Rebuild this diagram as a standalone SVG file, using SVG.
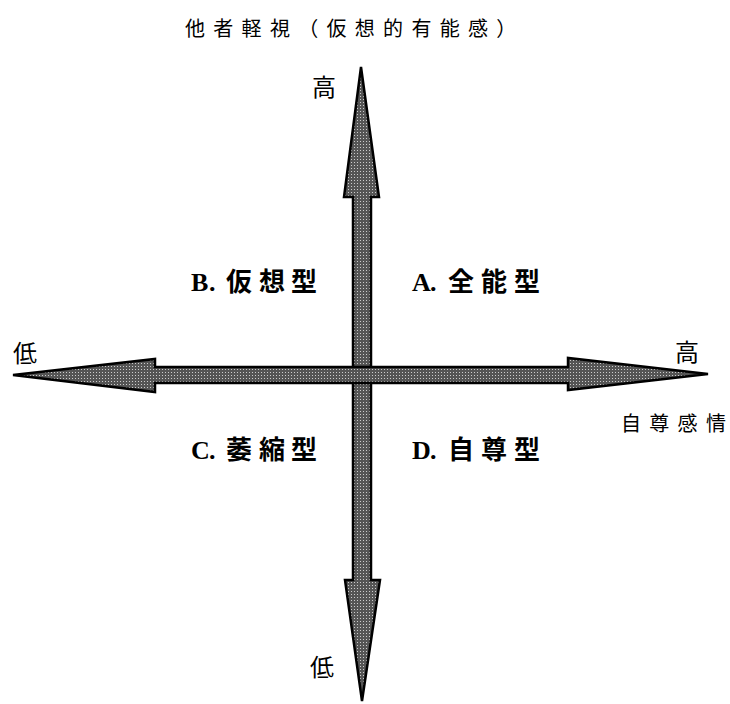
<svg xmlns="http://www.w3.org/2000/svg" width="730" height="704" viewBox="0 0 730 704">
<style>
.axis{fill:url(#dots);stroke:#000;stroke-width:2.5;stroke-linejoin:miter}
.thin{font-family:"Noto Sans CJK JP","Noto Sans CJK SC",sans-serif;font-size:20px;fill:#000}
.end{font-family:"Noto Sans CJK JP","Noto Sans CJK SC",sans-serif;font-size:24px;fill:#000}
.quad{font-family:"Liberation Serif","Noto Sans CJK JP",serif;font-size:26px;font-weight:bold;fill:#000}
</style>
<defs>
<pattern id="dots" width="3" height="3" patternUnits="userSpaceOnUse">
<rect width="3" height="3" fill="#555"/>
<rect width="1" height="1" fill="#ccc"/>
</pattern>
</defs>
<rect width="730" height="704" fill="#fff"/>
<g id="connectors">
<polygon class="axis" points="361,67 379,197 371,197 371,580 380,580 362,701 345,580 353,580 353,197 344,197"/>
<polygon class="axis" points="13,375 155,359 155,367 568,367 568,358 708,374 568,390 568,383 155,383 155,392"/>
</g>
<g id="title"><text class="thin" x="185 213.3 241.6 269.9 298.2 326.5 354.8 383.1 411.4 439.7 468 496.3" y="36">他者軽視（仮想的有能感）</text></g>
<g id="y-high"><text class="end" x="312" y="96">高</text></g>
<g id="y-low"><text class="end" x="310" y="676">低</text></g>
<g id="x-low"><text class="end" x="13" y="362">低</text></g>
<g id="x-high"><text class="end" x="675" y="361">高</text></g>
<g id="x-label"><text class="thin" x="621 649.3 677.6 705.9" y="431">自尊感情</text></g>
<g id="B"><text class="quad" x="191 209 226 259 291" y="291">B.仮想型</text></g>
<g id="A"><text class="quad" x="412 430 448 481 514" y="291">A.全能型</text></g>
<g id="C"><text class="quad" x="191 209 226 259 291" y="459">C.萎縮型</text></g>
<g id="D"><text class="quad" x="412 430 448 481 514" y="459">D.自尊型</text></g>
</svg>
